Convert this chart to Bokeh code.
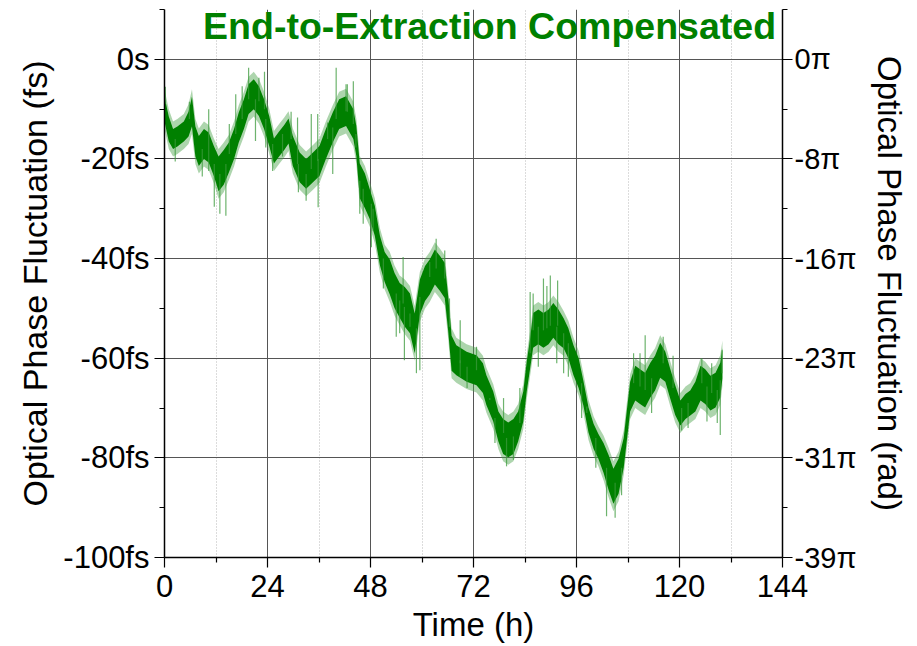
import numpy as np
from bokeh.plotting import figure
from bokeh.models import Range1d, LinearAxis, FixedTicker, Label
from bokeh.embed import file_html
from bokeh.resources import INLINE

# ---- data ----
time_h = [0, 1, 2, 3, 4.5, 5.6, 6.4, 7.2, 8, 9.2,
          10.3, 11.5, 12.6, 13.8, 15, 16.2, 17.3, 18.5, 19.6, 20.8,
          22, 23.2, 24.4, 25.5, 26.7, 27.9, 28.9, 29.9, 31.5, 33,
          34.6, 36.1, 37.6, 39.2, 40.7, 42.3, 44, 44.7, 45.5, 46.7,
          47.8, 49, 50.2, 51.3, 52.5, 53.6, 54.8, 56, 57.2, 58.3,
          59.5, 60.7, 61.8, 63, 64.2, 65.3, 66.1, 66.9, 68, 70.4,
          72.7, 74.2, 75, 76.6, 77.8, 78.9, 80.1, 81.3, 82.4, 83.6,
          84.4, 85.2, 85.9, 87.1, 88.3, 89.5, 90.6, 91.8, 93, 94.1,
          95.3, 96.5, 97.6, 98.8, 100, 101.1, 102.3, 103.5, 104.6, 105.8,
          107, 107.7, 108.5, 109.7, 110.8, 112, 113.2, 114.3, 115.5, 116.7,
          117.8, 119, 120.2, 121.4, 122.5, 123.7, 124.9, 126, 127.2, 128.4,
          129.5, 130]

center_fs = [-10, -14, -16, -15.5, -14.5, -13, -10.5, -16.5, -18.4, -17,
             -17.7, -20.4, -23, -21.7, -19.7, -17, -13.7, -11, -8, -7,
             -8.4, -11, -14.4, -18.4, -17, -15.7, -14.4, -18.4, -21.7, -23,
             -21.7, -20.4, -17, -13.7, -11, -10.4, -13, -16.4, -24.4, -26.4,
             -29, -32.4, -38.4, -41.7, -43.7, -46.4, -48.4, -49.7, -51, -55,
             -47.7, -45, -43.7, -41.7, -43, -44.4, -51, -59, -60.4, -61.7,
             -62.4, -64, -66.4, -69.7, -73.7, -75.7, -76.4, -75.7, -73.7, -69.7,
             -63.7, -59, -54.4, -53.7, -54.4, -53.7, -52.4, -53.7, -55, -57,
             -60.4, -63, -67, -72.4, -75.7, -77.7, -80, -83, -85.7, -83.7,
             -79, -73.7, -67.7, -65, -65.7, -66.4, -64.4, -63, -60.4, -61.7,
             -65, -68.4, -71, -69.7, -69, -67.7, -65, -65.7, -67, -66.4,
             -64.4, -61]

# half-thickness of the dense trace (fs)
spread_fs = [2.5, 2.5, 2, 2, 2, 2.5, 3, 3, 3, 3,
             3, 3, 3.5, 3.5, 3, 3, 3, 3, 3, 3,
             3, 3, 3, 2.5, 2.5, 2.5, 2.5, 3, 3, 3,
             3, 3, 3, 3, 3, 3, 3, 3, 3.5, 3.5,
             3, 3, 3, 3, 3.5, 3.5, 3.5, 4, 4, 4,
             3.5, 3.5, 3.5, 3.5, 3.5, 3.5, 3.5, 3.5, 3, 3,
             3, 3, 3, 3, 3, 3.5, 3.5, 3.5, 3, 3,
             3, 3, 3.5, 3.5, 3.5, 3.5, 3.5, 3.5, 3, 3,
             3, 3, 2.5, 2.5, 2.5, 2.5, 3, 3.5, 3.5, 3.5,
             3, 3, 3, 3.5, 3.5, 3.5, 3.5, 3.5, 3.5, 3,
             3, 3, 2.5, 2.5, 2.5, 3, 3.5, 3.5, 3.5, 3.5,
             3.5, 3]

# isolated noise spikes: time, start, end (fs)
spike_t = [0.2, 5.8, 10.3, 11.6, 12.9, 14.3, 15.1, 16.6, 19.6, 22,
           23.3, 25.2, 31, 31.2, 33, 34.2, 35.8, 40, 42.6, 44,
           46.3, 48.2, 54, 55.6, 55.9, 58.7, 63.3, 65.3, 68.9, 72.7,
           79, 79.7, 81.3, 82.8, 85.9, 87.1, 88.3, 89.9, 91.6, 93,
           97.2, 103, 105, 109.3, 110.8, 112, 113.5, 116.2, 120.5, 125.2,
           126.4, 128.8, 129.5, 129.9,
           18.1, 21.2, 23.6, 35.7, 38, 39.2, 42.3, 44.6, 45.5, 48.6,
           54.8, 57.2, 59.5, 61.8, 66.4, 68.9, 75.8, 85.2, 89.1, 91.4,
           94.1, 98.4, 2.5, 8.8, 27.5, 29.5, 51, 70.5, 77, 100.5,
           106.5, 118.5, 122, 127.5]
spike_from = [-9, -12, -10, -21, -23, -21, -19, -15, -8, -8.4,
              -10, -17, -21, -21, -23, -22, -20, -12, -10.5, -13,
              -26, -29, -47, -49, -49.7, -54, -42, -44, -61, -62.4,
              -75, -76, -75.7, -73, -54.4, -53.7, -54.4, -53.5, -53.5, -55,
              -65, -82, -85, -65, -65.7, -66.4, -64, -61, -70, -65,
              -65.7, -66.4, -64.4, -63,
              -12, -8, -12, -20.4, -16, -13.7, -10.4, -15, -24.4, -30,
              -48.4, -51, -47.7, -43.7, -48, -60.4, -68, -59, -54, -53.7,
              -57, -71, -16, -18, -15, -16, -40, -61.7, -72, -76,
              -82, -66, -69, -67]
spike_to = [-5.5, -8.5, -22.4, -29.6, -31, -31.4, -13, -7, -1.7, -3.7,
            -2.5, -22.4, -11.7, -26.7, -28.4, -11, -29.7, -1.7, -5, -4.4,
            -33, -37.7, -55.7, -39.7, -60.4, -63, -36, -38.4, -52.4, -57.7,
            -68, -81.7, -80.4, -66, -47, -61.7, -44, -43.4, -44.4, -63,
            -72, -91.7, -92, -59, -59, -55.4, -71, -55.7, -74.5, -60,
            -72.7, -73, -75.4, -58.4,
            -5.4, -16.4, -17.7, -11, -12.7, -23, -5, -17.7, -31, -34.4,
            -55, -53.7, -62.4, -40.7, -53.7, -63.7, -68.4, -46.7, -45.5, -61,
            -63.7, -69.7, -20.5, -23.5, -19.5, -10.5, -46, -66, -77, -82,
            -87.5, -59.5, -74, -61]

x_ticks = [0, 24, 48, 72, 96, 120, 144]
x_minor = [12, 36, 60, 84, 108, 132]
y_ticks = [-100, -80, -60, -40, -20, 0]
y_minor = [-90, -70, -50, -30, -10, 10]
left_labels = ["-100fs", "-80fs", "-60fs", "-40fs", "-20fs", "0s"]
right_labels = ["-39\u03c0", "-31\u03c0", "-23\u03c0", "-16\u03c0", "-8\u03c0", "0\u03c0"]

title_text = "End-to-Extraction Compensated"
FONT = "Liberation Sans"

t = np.array(time_h)
c = np.array(center_fs)
s = np.array(spread_fs)

p = figure(width=917, height=646, output_backend="svg", toolbar_location=None,
           x_range=Range1d(0, 144), y_range=Range1d(-100, 10),
           min_border_left=164, min_border_right=135,
           min_border_top=9, min_border_bottom=89)
p.outline_line_color = None
p.background_fill_color = "white"
p.border_fill_color = "white"

# trace: soft outer band, dense core, spikes
p.varea(x=t, y1=c - s - 1.5, y2=c + s + 1.5, fill_color="#4aa24a", fill_alpha=0.45)
p.varea(x=t, y1=c - s, y2=c + s, fill_color="#008000", fill_alpha=1.0)
p.segment(x0=spike_t, y0=spike_from, x1=spike_t, y1=spike_to,
          line_color="#3c9a3c", line_alpha=0.75, line_width=1.2)

xt = FixedTicker(ticks=x_ticks, minor_ticks=x_minor)
yt = FixedTicker(ticks=y_ticks, minor_ticks=y_minor)

left_ax = p.left[0]
bottom_ax = p.below[0]

bottom_ax.ticker = xt
left_ax.ticker = yt
p.xgrid.ticker = xt
p.ygrid.ticker = yt

p.xgrid.grid_line_color = "#555555"
p.xgrid.grid_line_width = 1
p.xgrid.minor_grid_line_color = "#b8b8b8"
p.xgrid.minor_grid_line_dash = "1 2"
p.ygrid.grid_line_color = "#555555"
p.ygrid.grid_line_width = 1
p.ygrid.minor_grid_line_color = None

left_ax.major_label_overrides = {v: l for v, l in zip(y_ticks, left_labels)}
left_ax.axis_label = "Optical Phase Fluctuation (fs)"
bottom_ax.axis_label = "Time (h)"

p.extra_y_ranges = {"r": Range1d(-100, 10)}
ry = LinearAxis(y_range_name="r", ticker=FixedTicker(ticks=y_ticks, minor_ticks=y_minor))
ry.major_label_overrides = {v: l for v, l in zip(y_ticks, right_labels)}
ry.axis_label = "Optical Phase Fluctuation (rad)"
p.add_layout(ry, "right")

for ax in [bottom_ax, left_ax, ry]:
    ax.axis_line_color = "black"
    ax.axis_line_width = 1.5
    ax.major_tick_line_color = "black"
    ax.minor_tick_line_color = "black"
    ax.major_tick_line_width = 1.2
    ax.minor_tick_line_width = 1.2
    ax.major_tick_out = 10
    ax.major_tick_in = 0
    ax.minor_tick_out = 5
    ax.minor_tick_in = 0
    ax.major_label_text_font = FONT
    ax.major_label_text_font_size = "31px"
    ax.major_label_text_color = "black"
    ax.axis_label_text_font = FONT
    ax.axis_label_text_font_size = "33px"
    ax.axis_label_text_font_style = "normal"
    ax.axis_label_text_color = "black"
    ax.major_label_standoff = 5
    ax.axis_label_standoff = 5

left_ax.axis_label_text_font_size = "34px"
left_ax.axis_label_standoff = 6
bottom_ax.major_label_standoff = 7
bottom_ax.axis_label_standoff = 6
ry.major_label_text_font_size = "29px"
ry.major_label_standoff = 2
ry.axis_label_standoff = 12

p.add_layout(Label(x=142.5, y=10, text=title_text, text_align="right",
                   text_baseline="top", text_font=FONT, text_font_size="37.5px",
                   text_font_style="bold", text_color="#008000", y_offset=5))

open("out.html", "w").write(file_html(p, INLINE))
